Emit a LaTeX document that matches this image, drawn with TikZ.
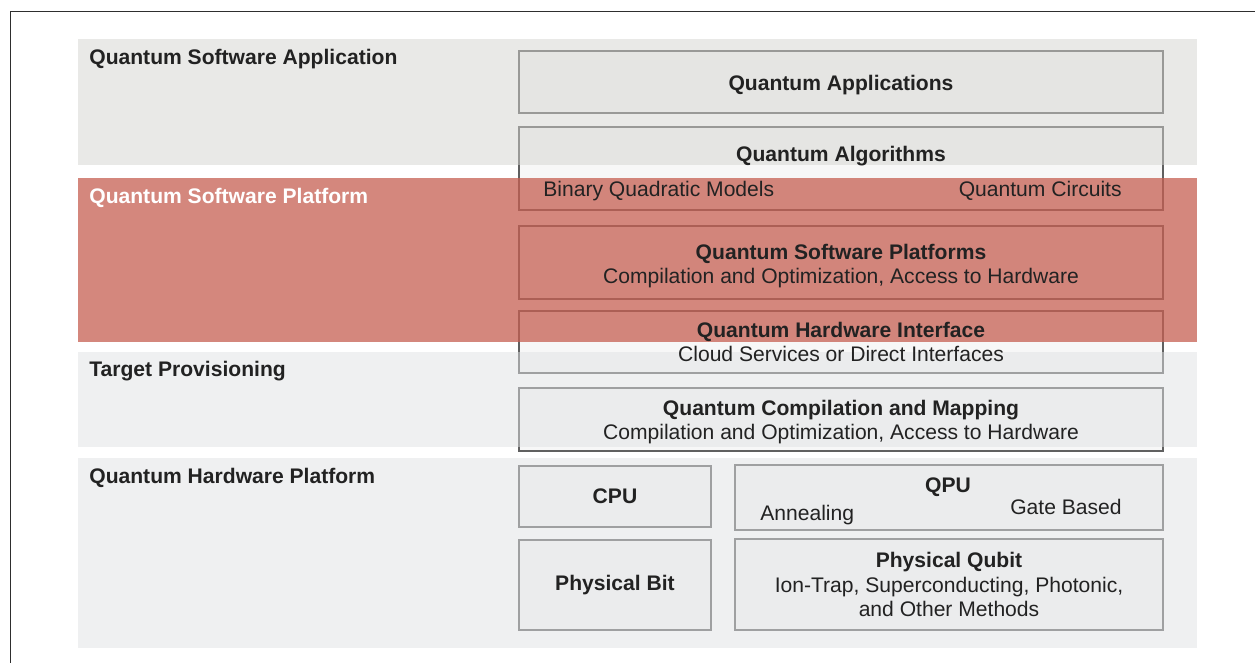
\documentclass[tikz,border=0pt]{standalone}
\usepackage{fontspec}
\setmainfont{Liberation Sans}
\usetikzlibrary{positioning}
\definecolor{clrFrame} {HTML}{2E2E2E}
\definecolor{clrEdge}  {HTML}{606060}
\definecolor{clrBandA} {HTML}{D3D3CF}
\definecolor{clrBandB} {HTML}{DFE1E3}
\definecolor{clrRed}   {HTML}{C65F52}
\definecolor{clrText}  {HTML}{222222}
\pgfdeclarelayer{frames}
\pgfdeclarelayer{bands}
\pgfsetlayers{frames,bands,main}
% raises the first line so the text sits a little lower in its box
\newcommand{\lowline}[1]{\rule{0pt}{#1}}

\begin{document}
\begin{tikzpicture}[x=0.02cm, y=-0.02cm,
  box/.style 2 args={minimum width=#1*0.02cm, minimum height=#2*0.02cm,
              inner sep=0pt, align=center, text=clrText,
              font=\fontsize{12}{14}\selectfont},
  edge/.style={draw=clrEdge, line width=1.1pt, fill=black, fill opacity=0.03},
  band/.style={fill opacity=0.5},
  lbl/.style={inner sep=0pt, font=\fontsize{12}{14}\selectfont\bfseries, text=clrText},
  plain/.style={inner sep=0pt, font=\fontsize{12}{14}\selectfont, text=clrText},
  frameline/.style={draw=clrFrame, line width=1.1pt},
]
\useasboundingbox (0,0) rectangle (1255,663);

% layer labels
\node[lbl, anchor=base west] (lApp) at (89,64) {Quantum Software Application};
\node[lbl, anchor=base west, text=white] (lPlat) at (89,203) {Quantum Software Platform};
\node[lbl, anchor=base west] (lTarget) at (89,376) {Target Provisioning};
\node[lbl, anchor=base west] (lHw) at (89,483) {Quantum Hardware Platform};

% stack of boxes
\node[box={644}{62}] (app) at (841,82) {\lowline{11.6pt}\textbf{Quantum Applications}};
\node[box={644}{83}] (algo) at (841,168.5) {};
\node[lbl, anchor=base] (algoT) at (841,161) {Quantum Algorithms};
\node[plain, anchor=base west] (bqm) at (543,196) {Binary Quadratic Models};
\node[plain, anchor=base east] (circ) at (1122,196) {Quantum Circuits};
\node[box={644}{73}] (plat) at (841,262.5)
  {\lowline{12.8pt}\textbf{Quantum Software Platforms}\\Compilation and Optimization, Access to Hardware};
\node[box={644}{62}] (hwif) at (841,342)
  {\textbf{Quantum Hardware Interface}\\Cloud Services or Direct Interfaces};
\node[box={644}{63}] (comp) at (841,419.5)
  {\lowline{11.8pt}\textbf{Quantum Compilation and Mapping}\\Compilation and Optimization, Access to Hardware};

% hardware row
\node[box={192}{61}] (cpu) at (615,496.5) {\textbf{CPU}};
\node[box={428}{65}] (qpu) at (949,497.5) {};
\node[lbl, anchor=base] (qpuT) at (948,492) {QPU};
\node[plain, anchor=base west] (anneal) at (760,520) {Annealing};
\node[plain, anchor=base east] (gate) at (1122,514) {Gate Based};
\node[box={192}{90}] (pbit) at (615,585) {\textbf{Physical Bit}};
\node[box={428}{90}] (qubit) at (949,584.5)
  {\textbf{Physical Qubit}\\Ion-Trap, Superconducting, Photonic,\\and Other Methods};

\begin{pgfonlayer}{frames}
  \foreach \n in {app,algo,plat,hwif,comp,cpu,qpu,pbit,qubit}
    \draw[edge] (\n.north west) rectangle (\n.south east);
\end{pgfonlayer}

% shaded bands over the boxes
\begin{pgfonlayer}{bands}
  \fill[band, clrBandA] (78,39) rectangle (1197,165);
  \fill[clrRed, fill opacity=0.75] (78,178) rectangle (1197,342);
  \fill[band, clrBandB] (78,352) rectangle (1197,447);
  \fill[band, clrBandB] (78,458) rectangle (1197,648);
\end{pgfonlayer}

% open frame
\coordinate (fBot) at (10.5,663);
\coordinate (fCorner) at (10.5,11.5);
\coordinate (fEnd) at (1255,11.5);
\draw[frameline] (fBot) -- (fCorner) -- (fEnd);
\end{tikzpicture}
\end{document}
